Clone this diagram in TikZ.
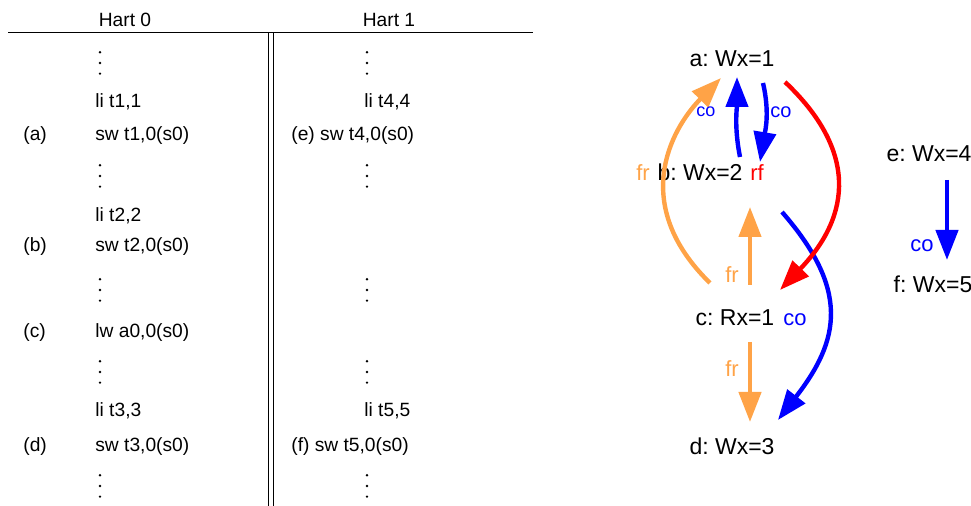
\documentclass[tikz,border=0pt]{standalone}
\usepackage{fontspec}
\setmainfont{Liberation Sans}
\usetikzlibrary{arrows.meta}
\definecolor{frorange}{RGB}{255,163,71}
\frenchspacing
\tikzset{
  code/.style={anchor=base west, inner sep=0pt, font=\fontsize{9.6}{11}\selectfont},
  hart/.style={anchor=base, inner sep=0pt, font=\fontsize{9.6}{11}\selectfont},
  ev/.style={anchor=base, inner sep=0pt, font=\fontsize{11.5}{13}\selectfont},
  rel/.style={anchor=base, inner sep=0pt, font=\fontsize{11}{13}\selectfont},
  edge/.style={line width=2.2pt, -{Triangle[length=15pt,width=11pt]}},
}
\begin{document}
\begin{tikzpicture}[x=0.5pt,y=-0.5pt]
\useasboundingbox (0,0) rectangle (971,506);
% program of both harts
\node[hart] (h0) at (125,27) {Hart 0};
\node[hart] (h1) at (389,27) {Hart 1};
\draw[line width=0.5pt] (8,33) -- (533,33);
\draw[line width=0.5pt] (268,33) -- (268,506);
\draw[line width=0.5pt] (273,33) -- (273,506);
\foreach \x in {100,367}
  \foreach \y in {63,176,290,372,486}
    \foreach \k in {-1,0,1}
      \fill (\x,\y+10.7*\k) circle[radius=0.65pt];
\node[code] (l1) at (95,108) {li t1,1};
\node[code] (pa) at (23,141) {(a)};
\node[code] (sa) at (95,141) {sw t1,0(s0)};
\node[code] (l2) at (95,222) {li t2,2};
\node[code] (pb) at (23,252) {(b)};
\node[code] (sb) at (95,252) {sw t2,0(s0)};
\node[code] (pc) at (23,338) {(c)};
\node[code] (lc) at (95,338) {lw a0,0(s0)};
\node[code] (l3) at (95,417) {li t3,3};
\node[code] (pd) at (23,452) {(d)};
\node[code] (sd) at (95,452) {sw t3,0(s0)};
\node[code] (l4) at (364,108) {li t4,4};
\node[code] (se) at (291,141) {(e) sw t4,0(s0)};
\node[code] (l5) at (364,417) {li t5,5};
\node[code] (sf) at (291,452) {(f) sw t5,0(s0)};
% events
\node[ev] (a) at (732,67) {a: Wx=1};
\node[ev] (b) at (700,181) {b: Wx=2};
\node[ev] (c) at (735,326) {c: Rx=1};
\node[ev] (d) at (732,455) {d: Wx=3};
\node[ev] (e) at (929,162) {e: Wx=4};
\node[ev] (f) at (933,293) {f: Wx=5};
% relations
\draw[edge, blue] ([shift={(40,-24)}]b.base) .. controls +(-6,-30) and +(0,30) .. ([shift={(5,10)}]a.base);
\draw[edge, blue] ([shift={(31,16)}]a.base) .. controls +(7,30) and +(5,-30) .. ([shift={(60,-19)}]b.base);
\draw[edge, frorange] ([shift={(-25,-43)}]c.base) .. controls +(-80,-78) and +(-51,52) .. ([shift={(-11,11)}]a.base);
\draw[edge, blue] ([shift={(82,31)}]b.base) .. controls +(68,78) and +(62,-80) .. ([shift={(46,-35)}]d.base);
\draw[edge, red] ([shift={(53,15)}]a.base) .. controls +(72,68) and +(72,-75) .. ([shift={(45,-36)}]c.base);
\draw[edge, frorange] ([shift={(15,-41)}]c.base) -- ([shift={(50,26)}]b.base);
\draw[edge, frorange] ([shift={(15,16)}]c.base) -- ([shift={(18,-33)}]d.base);
\draw[edge, blue] ([shift={(18,18)}]e.base) -- ([shift={(14,-33)}]f.base);
\node[rel, text=blue, font=\fontsize{9}{11}\selectfont] (co1) at (706,117) {co};
\node[rel, text=blue, font=\fontsize{10}{12}\selectfont] (co2) at (781,118) {co};
\node[rel, text=frorange] (fr1) at (643,181) {fr};
\node[rel, text=red] (rf1) at (757,181) {rf};
\node[rel, text=frorange] (fr2) at (732,283) {fr};
\node[rel, text=blue] (co3) at (795,326) {co};
\node[rel, text=frorange] (fr3) at (732,377) {fr};
\node[rel, text=blue] (co4) at (922,252) {co};
\end{tikzpicture}
\end{document}
